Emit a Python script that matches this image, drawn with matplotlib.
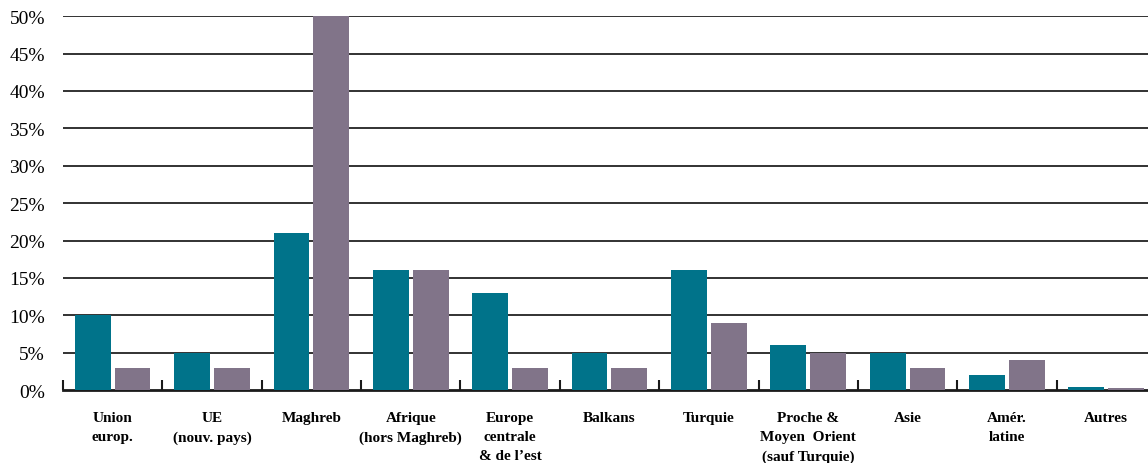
import numpy as np
import matplotlib.pyplot as plt

categories = ["Union\neurop.", "UE\n(nouv. pays)", "Maghreb", "Afrique\n(hors Maghreb)",
              "Europe\ncentrale\n& de l\u2019est", "Balkans", "Turquie",
              "Proche &\nMoyen  Orient\n(sauf Turquie)", "Asie", "Am\u00e9r.\nlatine", "Autres"]
serie_a = [10, 5, 21, 16, 13, 5, 16, 6, 5, 2, 0.4]
serie_b = [3, 3, 50, 16, 3, 3, 9, 5, 3, 4, 0.3]
yticks = [0, 5, 10, 15, 20, 25, 30, 35, 40, 45, 50]

plt.rcParams['font.family'] = ['Liberation Serif', 'DejaVu Serif']

fig = plt.figure(figsize=(11.48, 4.64), dpi=100)
ax = fig.add_axes([0.0549, 0.157, 0.952, 0.806])

x = np.arange(len(categories))
w = 0.36
ax.bar(x - 0.2, serie_a, width=w, color='#00738a', zorder=3)
ax.bar(x + 0.2, serie_b, width=w, color='#817489', zorder=3)

# horizontal rules behind the bars
for v in yticks[1:]:
    ax.axhline(v, color='#222222', lw=1.3, zorder=1)

ax.set_ylim(0, 50)
ax.set_xlim(-0.5, len(categories) - 0.5)
ax.set_yticks(yticks)
ax.set_yticklabels([f"{v}%" for v in yticks], fontsize=14)
ax.tick_params(axis='y', length=0, pad=13)

ax.set_xticks(x)
ax.set_xticklabels(categories, fontsize=11, fontweight='bold', linespacing=1.6, va='top')
ax.tick_params(axis='x', which='major', length=0, pad=15)
ax.set_xticks(np.arange(len(categories)) - 0.5, minor=True)
ax.tick_params(axis='x', which='minor', direction='in', length=7, width=1.5, color='#1a1a1a')

for s in ['left', 'right', 'top']:
    ax.spines[s].set_visible(False)
ax.spines['bottom'].set_linewidth(2)
ax.spines['bottom'].set_color('#1a1a1a')
ax.spines['bottom'].set_zorder(2)

fig.savefig('out.png', dpi=100)
